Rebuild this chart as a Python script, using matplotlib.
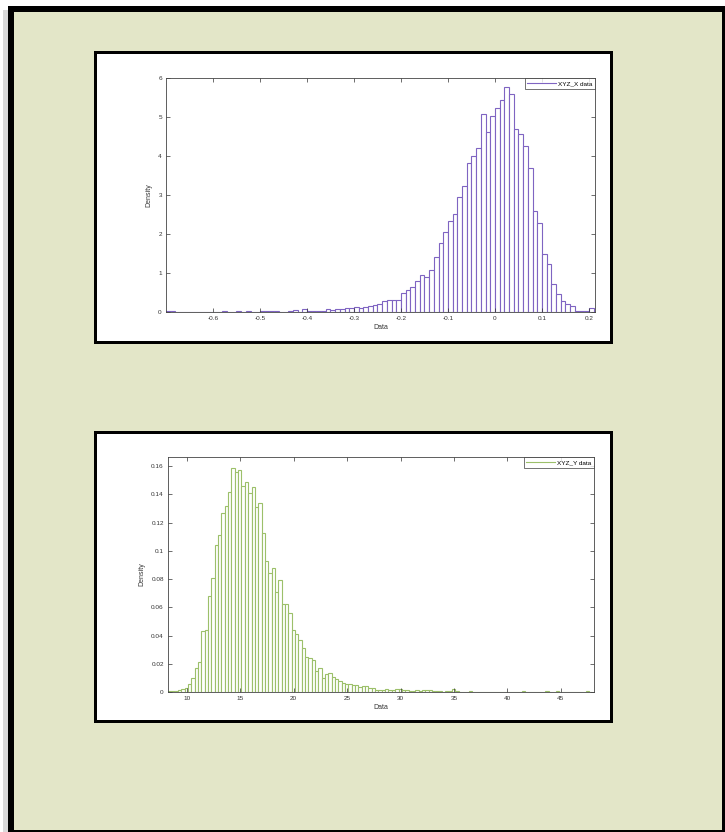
import numpy as np
import matplotlib
matplotlib.use('Agg')
import matplotlib.pyplot as plt
from matplotlib.patches import Rectangle
from matplotlib.lines import Line2D

plt.rcParams['font.family'] = ['Liberation Sans', 'DejaVu Sans']

# density histogram of the X component (bin width 0.01)
x_bin_start = -0.70
x_bin_width = 0.01
x_density = [
    0.02, 0.02, 0, 0, 0, 0, 0, 0, 0, 0,
    0, 0, 0.02, 0, 0, 0.02, 0, 0.02, 0, 0,
    0.02, 0.02, 0.02, 0.02, 0, 0.01, 0.03, 0.05, 0.01, 0.08,
    0.03, 0.02, 0.02, 0.03, 0.07, 0.04, 0.07, 0.08, 0.10, 0.10,
    0.12, 0.10, 0.13, 0.16, 0.17, 0.20, 0.28, 0.30, 0.32, 0.32,
    0.48, 0.56, 0.63, 0.80, 0.96, 0.91, 1.07, 1.41, 1.77, 2.06,
    2.34, 2.51, 2.94, 3.23, 3.81, 4.00, 4.20, 5.07, 4.62, 5.03,
    5.22, 5.43, 5.76, 5.59, 4.68, 4.56, 4.26, 3.68, 2.60, 2.28,
    1.50, 1.24, 0.71, 0.46, 0.29, 0.21, 0.15, 0.03, 0.02, 0.02,
    0.10,
]

# density histogram of the Y component (bin width 0.3125)
y_bin_start = 8.25
y_bin_width = 0.3125
y_density = [
    0.0005, 0.001, 0.001, 0.0015, 0.002, 0.003, 0.006, 0.010, 0.017, 0.021,
    0.043, 0.044, 0.068, 0.081, 0.104, 0.111, 0.127, 0.132, 0.142, 0.159,
    0.156, 0.157, 0.146, 0.149, 0.141, 0.145, 0.131, 0.134, 0.113, 0.093,
    0.0845, 0.088, 0.071, 0.079, 0.062, 0.062, 0.056, 0.044, 0.041, 0.037,
    0.031, 0.025, 0.024, 0.023, 0.015, 0.017, 0.010, 0.0125, 0.0137, 0.0106,
    0.0094, 0.0075, 0.0066, 0.0054, 0.006, 0.0047, 0.005, 0.0033, 0.0042, 0.0042,
    0.0028, 0.0028, 0.0017, 0.0017, 0.0017, 0.0024, 0.0017, 0.0017, 0.002, 0.0022,
    0.0012, 0.0012, 0.001, 0.001, 0.0012, 0.001, 0.0012, 0.0012, 0.0014, 0.001,
    0.0008, 0.0004, 0, 0.0008, 0.0006, 0.0018, 0.0008, 0, 0, 0,
    0.0008, 0, 0, 0, 0, 0, 0, 0, 0, 0,
    0, 0, 0, 0, 0, 0, 0.0008, 0, 0, 0,
    0, 0, 0, 0.0006, 0, 0, 0.0008, 0, 0, 0,
    0, 0, 0, 0, 0, 0.0008, 0,
]

x_ticks = [-0.6, -0.5, -0.4, -0.3, -0.2, -0.1, 0, 0.1, 0.2]
x_tick_labels = ['-0.6', '-0.5', '-0.4', '-0.3', '-0.2', '-0.1', '0', '0.1', '0.2']
y_ticks = [10, 15, 20, 25, 30, 35, 40, 45]
x_yticks = [0, 1, 2, 3, 4, 5, 6]
y_yticks = [0, 0.02, 0.04, 0.06, 0.08, 0.1, 0.12, 0.14, 0.16]
y_ytick_labels = ['0', '0.02', '0.04', '0.06', '0.08', '0.1', '0.12', '0.14', '0.16']

W, H = 725, 832
fig = plt.figure(figsize=(W / 100, H / 100), dpi=100)
fig.patch.set_facecolor('white')


def frac(l, t, r, b):
    return [l / W, 1 - b / H, (r - l) / W, (b - t) / H]


def add_rect(l, t, r, b, color):
    x0, y0, w, h = frac(l, t, r, b)
    fig.add_artist(Rectangle((x0, y0), w, h, transform=fig.transFigure,
                             facecolor=color, edgecolor='none', zorder=-5))


# page background with frame
add_rect(3, 10, 8, 832, '#d9d9d9')
add_rect(8, 6, 725, 832, '#000000')
add_rect(14, 12, 722, 830, '#e3e6c8')

# white panels holding the two plots
add_rect(94, 51, 613, 344, '#000000')
add_rect(97, 54, 610, 341, '#ffffff')
add_rect(94, 431, 613, 723, '#000000')
add_rect(97, 434, 610, 720, '#ffffff')


def draw_hist(pos, start, width, dens, color, label):
    ax = fig.add_axes(frac(*pos))
    ax.set_zorder(5)
    edges = start + width * np.arange(len(dens))
    ax.bar(edges, dens, width=width, align='edge', facecolor='white',
           edgecolor=color, linewidth=0.8)
    ax.tick_params(direction='in', length=3, width=0.5, labelsize=4.6,
                   top=True, right=True, colors='#333333', pad=3)
    for s in ax.spines.values():
        s.set_color('#444444')
        s.set_linewidth(0.6)
    ax.set_xlabel('Data', fontsize=5, color='#333333', labelpad=2)
    ax.set_ylabel('Density', fontsize=5, color='#333333', labelpad=4)
    h = Line2D([], [], color=color, linewidth=0.8)
    leg = ax.legend([h], [label], loc='upper right', fontsize=4.6,
                    handlelength=4.5, borderaxespad=0.05, fancybox=False,
                    borderpad=0.4, handletextpad=0.3)
    leg.get_frame().set_edgecolor('#333333')
    leg.get_frame().set_linewidth(0.6)
    return ax


ax1 = draw_hist((166, 78, 595, 312), x_bin_start, x_bin_width, x_density,
                '#7f64c2', 'XYZ_X data')
ax1.set_xlim(-0.70, 0.213)
ax1.set_ylim(0, 6)
ax1.set_xticks(x_ticks)
ax1.set_xticklabels(x_tick_labels)
ax1.set_yticks(x_yticks)

ax2 = draw_hist((168, 457, 594, 692), y_bin_start, y_bin_width, y_density,
                '#9cc06a', 'XYZ_Y data')
ax2.set_xlim(8.25, 48.1)
ax2.set_ylim(0, 0.1665)
ax2.set_xticks(y_ticks)
ax2.set_yticks(y_yticks)
ax2.set_yticklabels(y_ytick_labels)

fig.savefig('out.png', dpi=100)
